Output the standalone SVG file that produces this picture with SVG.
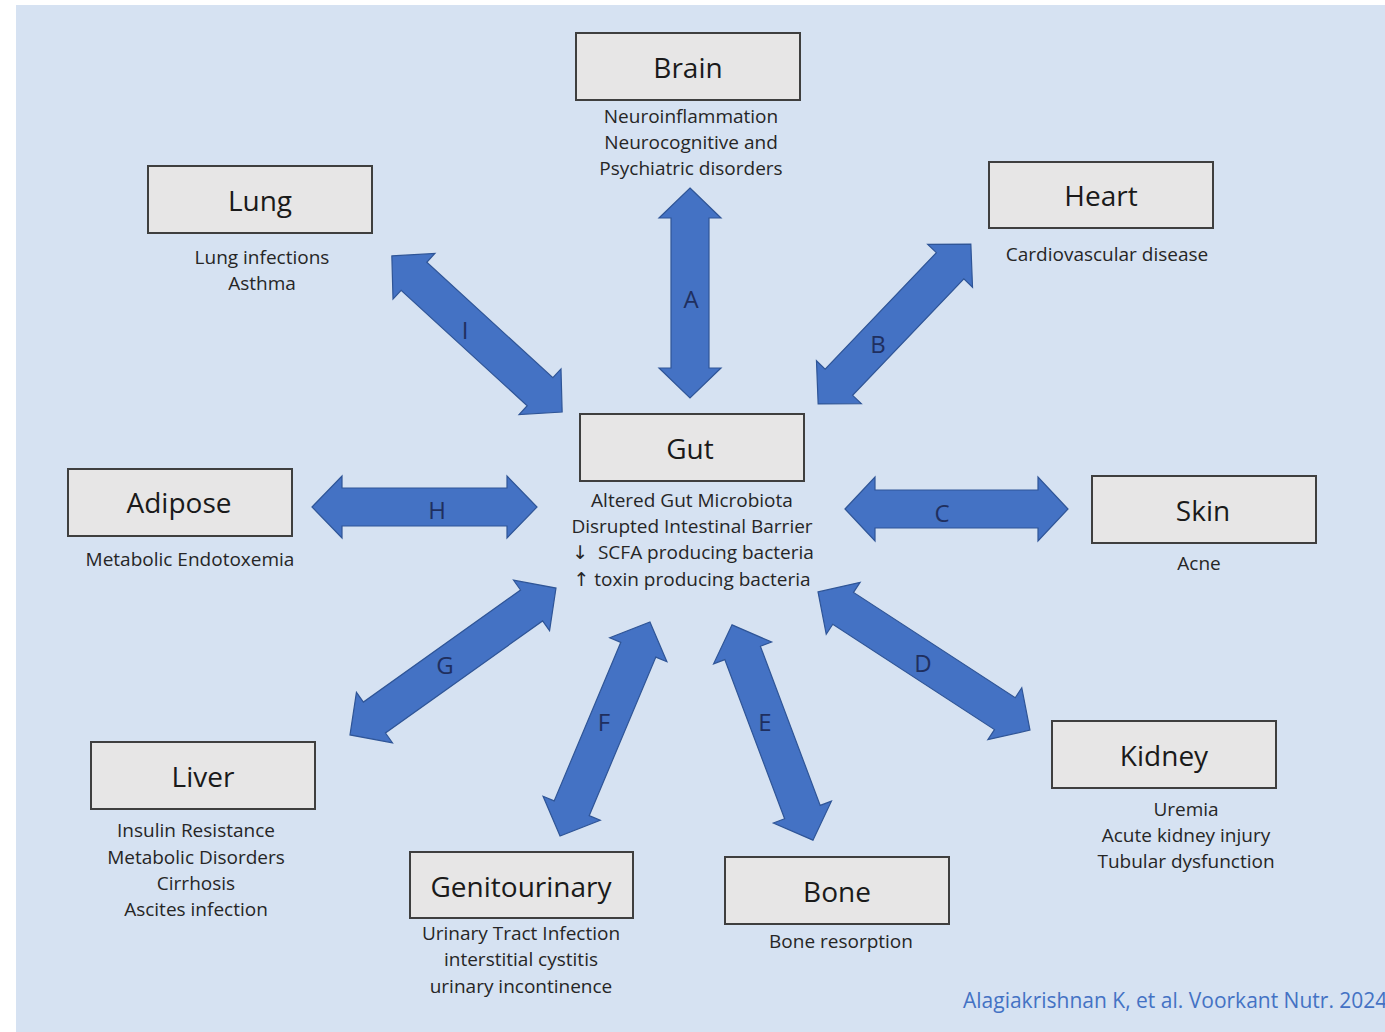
<svg xmlns="http://www.w3.org/2000/svg" width="1385" height="1032" viewBox="0 0 1385 1032">
<style>
.box{fill:#E7E6E6;stroke:#3F3F3F;stroke-width:2}
.title{font-family:"Open Sans","Noto Sans",sans-serif;font-size:28px;fill:#1a1a1a;text-anchor:middle}
.desc{font-family:"Open Sans","Noto Sans",sans-serif;font-size:19px;fill:#262626;text-anchor:middle}
.ar{font-family:"DejaVu Sans",sans-serif}
.arrow{fill:#4472C4;stroke:#2F5597;stroke-width:1.2}
.lbl{font-family:"Open Sans","Noto Sans",sans-serif;font-size:24px;fill:#1F2F5F;text-anchor:middle}
.cite{font-family:"Open Sans","Noto Sans",sans-serif;font-size:21px;fill:#4472C4}
</style>
<rect x="0" y="0" width="1385" height="1032" fill="#FFFFFF"/>
<rect x="16" y="5" width="1369" height="1027" fill="#D6E2F2"/>
<g id="connectors">
  <path class="arrow" transform="translate(690,293) rotate(90)" d="M-105,0 L-75,-31 L-75,-19 L75,-19 L75,-31 L105,0 L75,31 L75,19 L-75,19 L-75,31 Z"/>
  <path class="arrow" transform="translate(894.5,324) rotate(-46.3)" d="M-110.5,0 L-80.5,-31 L-80.5,-19 L80.5,-19 L80.5,-31 L110.5,0 L80.5,31 L80.5,19 L-80.5,19 L-80.5,31 Z"/>
  <path class="arrow" transform="translate(956.5,509)" d="M-111.5,0 L-81.5,-32 L-81.5,-19 L81.5,-19 L81.5,-32 L111.5,0 L81.5,32 L81.5,19 L-81.5,19 L-81.5,32 Z"/>
  <path class="arrow" transform="translate(924,661) rotate(33.1)" d="M-126.5,0 L-96.5,-31 L-96.5,-19 L96.5,-19 L96.5,-31 L126.5,0 L96.5,31 L96.5,19 L-96.5,19 L-96.5,31 Z"/>
  <path class="arrow" transform="translate(772.5,732.5) rotate(69.4)" d="M-115,0 L-85,-31 L-85,-19 L85,-19 L85,-31 L115,0 L85,31 L85,19 L-85,19 L-85,31 Z"/>
  <path class="arrow" transform="translate(605,729) rotate(-67.2)" d="M-116,0 L-86,-31 L-86,-19 L86,-19 L86,-31 L116,0 L86,31 L86,19 L-86,19 L-86,31 Z"/>
  <path class="arrow" transform="translate(453,661.5) rotate(-35.5)" d="M-126.5,0 L-96.5,-31 L-96.5,-19 L96.5,-19 L96.5,-31 L126.5,0 L96.5,31 L96.5,19 L-96.5,19 L-96.5,31 Z"/>
  <path class="arrow" transform="translate(424.5,507)" d="M-112.5,0 L-82.5,-31 L-82.5,-19 L82.5,-19 L82.5,-31 L112.5,0 L82.5,31 L82.5,19 L-82.5,19 L-82.5,31 Z"/>
  <path class="arrow" transform="translate(477,334) rotate(42.5)" d="M-115.5,0 L-85.5,-31 L-85.5,-19 L85.5,-19 L85.5,-31 L115.5,0 L85.5,31 L85.5,19 L-85.5,19 L-85.5,31 Z"/>
  <text class="lbl" x="691" y="308">A</text>
  <text class="lbl" x="878" y="353">B</text>
  <text class="lbl" x="942" y="522">C</text>
  <text class="lbl" x="923" y="672">D</text>
  <text class="lbl" x="765" y="731">E</text>
  <text class="lbl" x="604" y="731">F</text>
  <text class="lbl" x="445" y="674">G</text>
  <text class="lbl" x="437" y="519">H</text>
  <text class="lbl" x="465" y="339">I</text>
</g>
<g id="brain">
  <rect class="box" x="576" y="33" width="224" height="67"/>
  <text class="title" x="688" y="78">Brain</text>
  <text class="desc" x="691" y="123">Neuroinflammation</text>
  <text class="desc" x="691" y="149">Neurocognitive and</text>
  <text class="desc" x="691" y="175">Psychiatric disorders</text>
</g>
<g id="lung">
  <rect class="box" x="148" y="166" width="224" height="67"/>
  <text class="title" x="260" y="211">Lung</text>
  <text class="desc" x="262" y="264">Lung infections</text>
  <text class="desc" x="262" y="290">Asthma</text>
</g>
<g id="heart">
  <rect class="box" x="989" y="162" width="224" height="66"/>
  <text class="title" x="1101" y="206">Heart</text>
  <text class="desc" x="1107" y="261">Cardiovascular disease</text>
</g>
<g id="gut">
  <rect class="box" x="580" y="414" width="224" height="67"/>
  <text class="title" x="690" y="459">Gut</text>
  <text class="desc" x="692" y="507">Altered Gut Microbiota</text>
  <text class="desc" x="692" y="533">Disrupted Intestinal Barrier</text>
  <text class="desc" x="693" y="559" xml:space="preserve"><tspan class="ar">↓</tspan>  SCFA producing bacteria</text>
  <text class="desc" x="692" y="586"><tspan class="ar">↑</tspan> toxin producing bacteria</text>
</g>
<g id="adipose">
  <rect class="box" x="68" y="469" width="224" height="67"/>
  <text class="title" x="179" y="513">Adipose</text>
  <text class="desc" x="190" y="566">Metabolic Endotoxemia</text>
</g>
<g id="skin">
  <rect class="box" x="1092" y="476" width="224" height="67"/>
  <text class="title" x="1203" y="521">Skin</text>
  <text class="desc" x="1199" y="570">Acne</text>
</g>
<g id="liver">
  <rect class="box" x="91" y="742" width="224" height="67"/>
  <text class="title" x="203" y="787">Liver</text>
  <text class="desc" x="196" y="837">Insulin Resistance</text>
  <text class="desc" x="196" y="864">Metabolic Disorders</text>
  <text class="desc" x="196" y="890">Cirrhosis</text>
  <text class="desc" x="196" y="916">Ascites infection</text>
</g>
<g id="kidney">
  <rect class="box" x="1052" y="721" width="224" height="67"/>
  <text class="title" x="1164" y="766">Kidney</text>
  <text class="desc" x="1186" y="816">Uremia</text>
  <text class="desc" x="1186" y="842">Acute kidney injury</text>
  <text class="desc" x="1186" y="868">Tubular dysfunction</text>
</g>
<g id="genitourinary">
  <rect class="box" x="410" y="852" width="223" height="66"/>
  <text class="title" x="521" y="897">Genitourinary</text>
  <text class="desc" x="521" y="940">Urinary Tract Infection</text>
  <text class="desc" x="521" y="966">interstitial cystitis</text>
  <text class="desc" x="521" y="993">urinary incontinence</text>
</g>
<g id="bone">
  <rect class="box" x="725" y="857" width="224" height="67"/>
  <text class="title" x="837" y="902">Bone</text>
  <text class="desc" x="841" y="948">Bone resorption</text>
</g>
<text class="cite" x="963" y="1008">Alagiakrishnan K, et al. Voorkant Nutr. 2024</text>
</svg>
